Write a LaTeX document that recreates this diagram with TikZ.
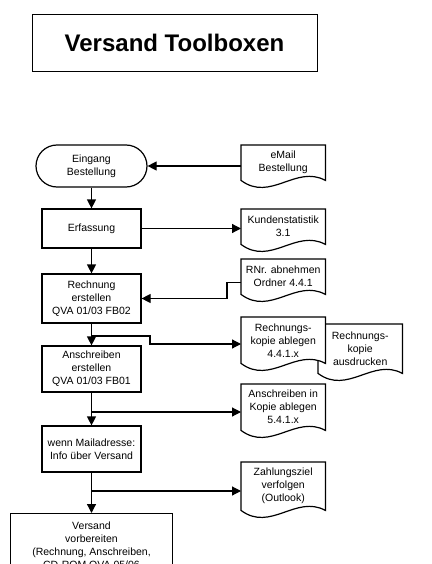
\documentclass[tikz,border=0pt]{standalone}
\usepackage{fontspec}
\setmainfont{Liberation Sans}
\usetikzlibrary{calc,arrows.meta}
\pgfdeclarelayer{background}
\pgfsetlayers{background,main}
\tikzset{
  txt/.style={font=\fontsize{10.5}{13}\selectfont, align=center},
  proc/.style={txt, draw, line width=1.2pt, inner sep=0pt},
  doc/.style={txt, inner sep=0pt, minimum width=84pt, anchor=north west},
  docline/.style={draw, line width=1.2pt, fill=white},
  arr/.style={line width=1.2pt, -{Triangle[length=9pt,width=9pt]}},
}
\newcommand\docshape[1]{%
  \path[docline] (#1.north west) -- (#1.north east) -- (#1.south east)
    .. controls ($(#1.south east)!0.35!(#1.south west)+(0,-16)$)
    and ($(#1.south east)!0.65!(#1.south west)+(0,22)$) .. (#1.south west) -- cycle;}
\begin{document}
\begin{tikzpicture}[x=1pt,y=-1pt]
\useasboundingbox (0,0) rectangle (431,564);
\clip (0,0) rectangle (431,564);
% title
\node[draw, line width=0.8pt, minimum width=285pt, minimum height=57pt,
      font=\bfseries\fontsize{24}{28}\selectfont] (title) at (174.5,42.5) {Versand Toolboxen};
% process column
\node[proc, rounded corners=21pt, minimum width=111pt, minimum height=42pt] (eingang) at (91.5,166) {Eingang\\Bestellung};
\node[proc, minimum width=99pt, minimum height=39pt] (erf) at (91.5,228.5) {Erfassung};
\node[proc, minimum width=99pt, minimum height=49pt] (rech) at (91.5,298.5) {Rechnung\\erstellen\\QVA 01/03 FB02};
\node[proc, minimum width=99pt, minimum height=46pt] (ansch) at (91.5,369) {Anschreiben\\erstellen\\QVA 01/03 FB01};
\node[proc, minimum width=99pt, minimum height=46pt] (wenn) at (91.5,449) {wenn Mailadresse:\\Info über Versand};
\node[proc, anchor=north, minimum width=162pt, inner ysep=8.5pt] (versand) at (91.5,513)
  {Versand\\vorbereiten\\(Rechnung, Anschreiben,\\CD-ROM QVA 05/06};
% documents
\node[doc, minimum height=35pt] (email) at (241,145) {eMail\\Bestellung};
\node[doc, minimum height=35pt] (kunden) at (241,209) {Kundenstatistik\\3.1};
\node[doc, minimum height=35pt] (rnr) at (241,259) {RNr. abnehmen\\Ordner 4.4.1};
\node[doc, minimum height=49pt] (druck) at (318,324) {Rechnungs-\\kopie\\ausdrucken};
\node[doc, minimum height=46pt] (rkopie) at (241,317) {Rechnungs-\\kopie ablegen\\4.4.1.x};
\node[doc, minimum height=46pt] (akopie) at (241,384) {Anschreiben in\\Kopie ablegen\\5.4.1.x};
\node[doc, minimum height=48pt] (zahl) at (241,462) {Zahlungsziel\\verfolgen\\(Outlook)};
\begin{pgfonlayer}{background}
\docshape{email}
\docshape{kunden}
\docshape{rnr}
\docshape{druck}
\docshape{rkopie}
\docshape{akopie}
\docshape{zahl}
\end{pgfonlayer}
% connectors
\draw[arr] (eingang.east -| email.west) -- (eingang.east);
\draw[arr] (eingang.south) -- (erf.north);
\draw[arr] (erf.east) -- (erf.east -| kunden.west);
\draw[arr] (erf.south) -- (rech.north);
\coordinate (r1) at ($(rnr.west)+(0,6)$);
\draw[arr] (r1) -- ++(-14,0) |- (rech.east);
\draw[arr] (rech.south) -- (ansch.north);
\coordinate (b1) at (91.5,336);
\coordinate (k1) at (150,344);
\draw[arr] (b1) -- (b1 -| k1) -- (k1) -- (k1 -| rkopie.west);
\draw[arr] (ansch.south) -- (wenn.north);
\coordinate (b2) at (91.5,412);
\draw[arr] (b2) -- (b2 -| akopie.west);
\draw[arr] (wenn.south) -- (versand.north);
\coordinate (b3) at (91.5,491);
\draw[arr] (b3) -- (b3 -| zahl.west);
\end{tikzpicture}
\end{document}
